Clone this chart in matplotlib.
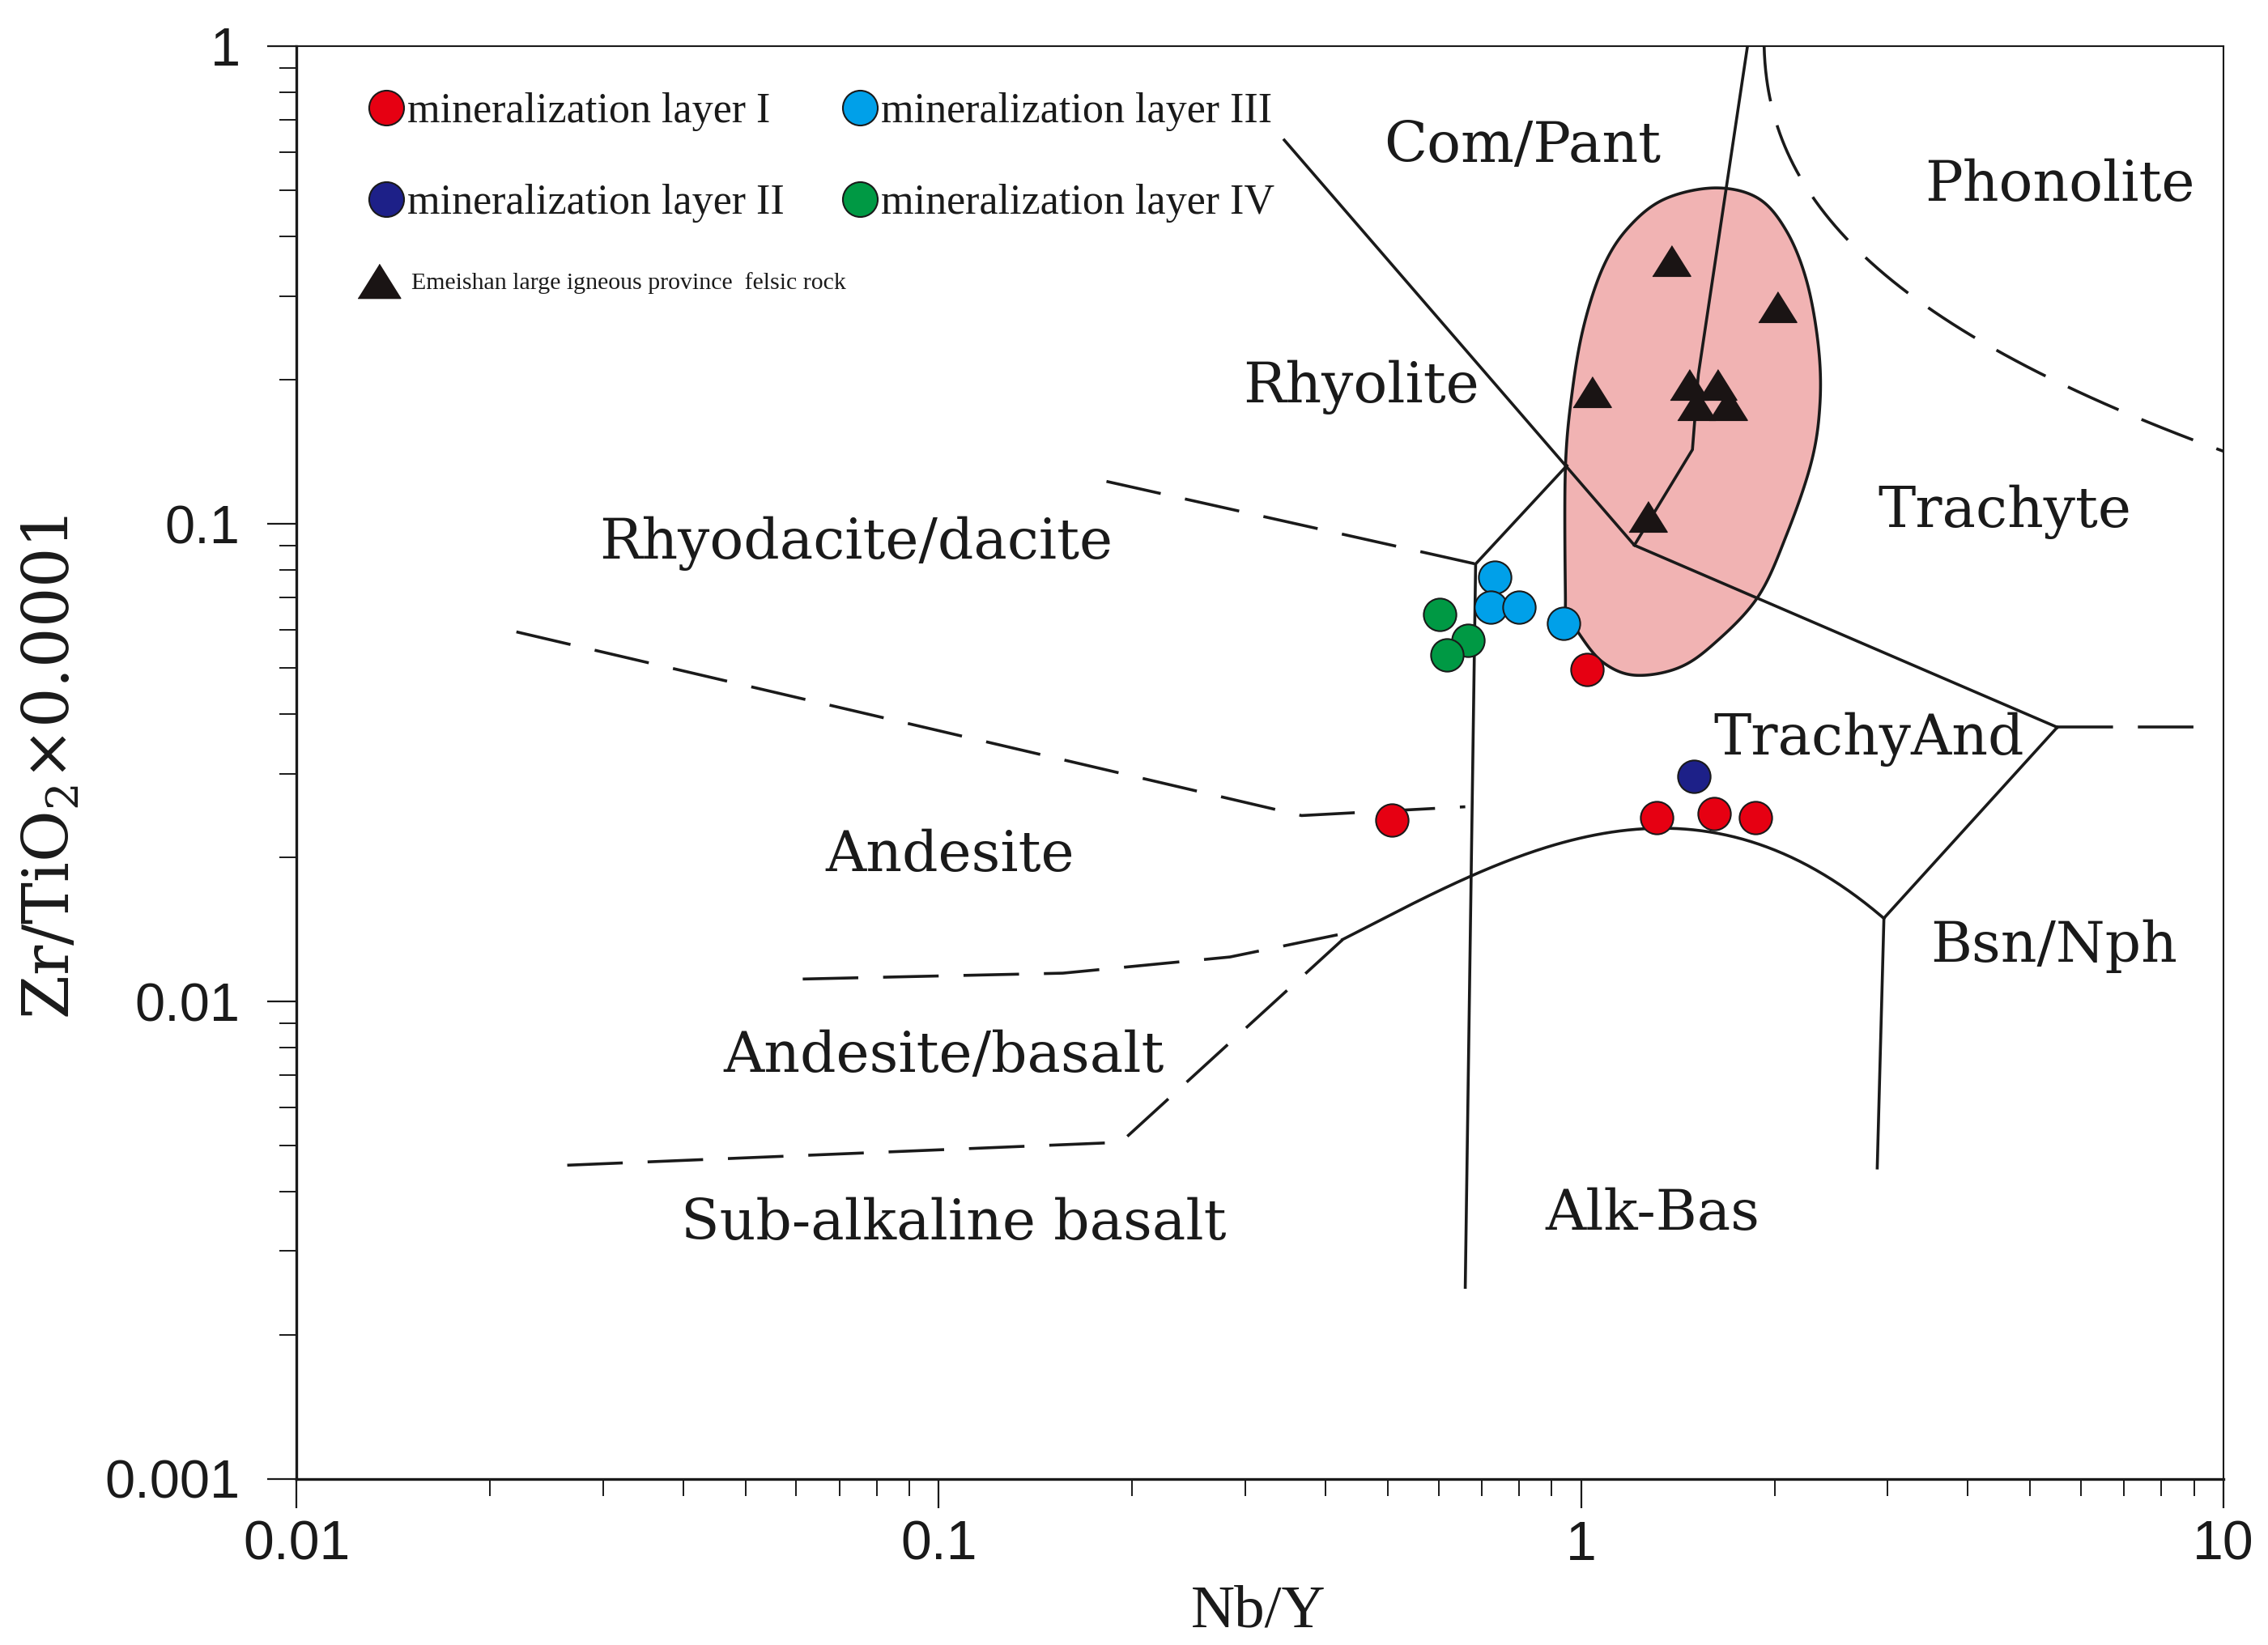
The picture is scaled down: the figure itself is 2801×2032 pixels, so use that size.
import numpy as np
import matplotlib
matplotlib.use('Agg')
import matplotlib.pyplot as plt
from matplotlib.lines import Line2D
from matplotlib.patches import Polygon
from matplotlib.ticker import FixedLocator, FixedFormatter, NullFormatter

plt.rcParams['mathtext.fontset'] = 'dejavuserif'

# ---------------- data (Nb/Y, Zr/TiO2*0.0001) ----------------
layer1_x = [1.02, 0.507, 1.31, 1.61, 1.87]
layer1_y = [0.0496, 0.0240, 0.0243, 0.0247, 0.0243]
layer2_x = [1.50]
layer2_y = [0.0296]
layer3_x = [0.733, 0.724, 0.80, 0.94]
layer3_y = [0.0774, 0.0669, 0.0669, 0.0619]
layer4_x = [0.602, 0.667, 0.618]
layer4_y = [0.0646, 0.0570, 0.0531]
felsic_x = [1.38, 2.02, 1.04, 1.47, 1.63, 1.51, 1.69, 1.27]
felsic_y = [0.356, 0.285, 0.189, 0.196, 0.196, 0.1775, 0.1775, 0.1038]

# field of Emeishan felsic rocks (outline, clockwise from top)
field_x = [1.612, 1.883, 2.088, 2.246, 2.341, 2.353, 2.281, 2.088, 1.883, 1.612,
           1.415, 1.211, 1.081, 0.995, 0.950, 0.945, 0.945, 0.969, 1.010, 1.081,
           1.181, 1.344]
field_y = [0.505, 0.481, 0.410, 0.321, 0.2346, 0.1775, 0.1343, 0.0948, 0.0702, 0.0562,
           0.0499, 0.0482, 0.0513, 0.0586, 0.0660, 0.0712, 0.1306, 0.1903, 0.2604, 0.344,
           0.4154, 0.4776]

# solid classification boundaries
solid_A_x = [0.345, 1.21, 5.51];            solid_A_y = [0.636, 0.0902, 0.0375]
solid_B_x = [0.95, 0.685, 0.66];            solid_B_y = [0.1324, 0.0824, 0.00252]
solid_C_x = [1.815, 1.522, 1.49, 1.21];     solid_C_y = [1.0, 0.2055, 0.143, 0.0902]
solid_D_x = [5.51, 2.96, 2.89];             solid_D_y = [0.0375, 0.01494, 0.00448]
solid_E_x = [0.425, 0.528, 0.66, 1.037, 1.416, 1.93, 2.38, 2.96]
solid_E_y = [0.01346, 0.0157, 0.01803, 0.02223, 0.0230, 0.0212, 0.0184, 0.01494]

# dashed classification boundaries
dash_F_x = [0.1824, 0.685];                 dash_F_y = [0.1227, 0.0824]
dash_G_x = [0.022, 0.367, 0.66];            dash_G_y = [0.0594, 0.0245, 0.02556]
dash_H_x = [0.0614, 0.156, 0.284, 0.43];    dash_H_y = [0.01114, 0.01146, 0.01239, 0.0139]
dash_I_x = [0.0264, 0.192, 0.425];          dash_I_y = [0.00454, 0.00507, 0.01346]
dash_J_x = [5.51, 9.4];                     dash_J_y = [0.0375, 0.0375]
dash_K_x = [1.92, 2.133, 2.466, 2.985, 4.30, 6.14, 10.0]
dash_K_y = [1.0, 0.589, 0.427, 0.323, 0.2345, 0.189, 0.141]

field_names = ['Com/Pant', 'Phonolite', 'Rhyolite', 'Trachyte', 'Rhyodacite/dacite',
               'TrachyAnd', 'Andesite', 'Bsn/Nph', 'Andesite/basalt',
               'Sub-alkaline basalt', 'Alk-Bas']
name_pos = [(0.636, 0.930), (0.915, 0.903), (0.5526, 0.762), (0.8866, 0.675),
            (0.2905, 0.653), (0.816, 0.516), (0.339, 0.435), (0.912, 0.372),
            (0.336, 0.295), (0.341, 0.178), (0.7035, 0.185)]

xticks = [0.01, 0.1, 1, 10]
xtick_labels = ['0.01', '0.1', '1', '10']
yticks = [0.001, 0.01, 0.1, 1]
ytick_labels = ['0.001', '0.01', '0.1', '1']

layer_labels = ['mineralization layer I', 'mineralization layer II',
                'mineralization layer III', 'mineralization layer IV']
felsic_label = 'Emeishan large igneous province  felsic rock'

# ---------------- styling ----------------
c_red = '#E60012'
c_navy = '#1D2088'
c_sky = '#00A0E9'
c_green = '#009944'
c_field = '#F1B3B3'
ink = '#1a1a1a'
lw = 2.6
dash = (0, (19, 8.5))
tri = [(-1, -0.8), (1, -0.8), (0, 0.8)]


def catmull_rom_closed(p, n=20):
    out = []
    m = len(p)
    for i in range(m):
        p0, p1, p2, p3 = p[(i - 1) % m], p[i], p[(i + 1) % m], p[(i + 2) % m]
        t = np.linspace(0, 1, n, endpoint=False)[:, None]
        seg = 0.5 * ((2 * p1) + (-p0 + p2) * t + (2 * p0 - 5 * p1 + 4 * p2 - p3) * t ** 2
                     + (-p0 + 3 * p1 - 3 * p2 + p3) * t ** 3)
        out.append(seg)
    return np.vstack(out)


fig = plt.figure(figsize=(28.01, 20.32), dpi=100)
ax = fig.add_axes([0.1307, 0.1009, 0.9804 - 0.1307, 0.9719 - 0.1009])
ax.set_xscale('log')
ax.set_yscale('log')
ax.set_xlim(0.01, 10)
ax.set_ylim(0.001, 1)

# field outline (interpolating spline in log space)
pts = np.column_stack([np.log10(field_x), np.log10(field_y)])
curve = catmull_rom_closed(pts)
poly = Polygon(10 ** curve, closed=True, facecolor=c_field, edgecolor=ink,
               linewidth=lw, zorder=1)
ax.add_patch(poly)

for xs, ys in [(solid_A_x, solid_A_y), (solid_B_x, solid_B_y), (solid_C_x, solid_C_y),
               (solid_D_x, solid_D_y)]:
    ax.plot(xs, ys, color=ink, lw=lw, zorder=2, solid_joinstyle='miter')
ex = np.log10(solid_E_x)
ey = np.log10(solid_E_y)
tt = np.linspace(ex[0], ex[-1], 200)
coef = np.polyfit(ex, ey, 4)
ax.plot(10 ** tt, 10 ** np.polyval(coef, tt), color=ink, lw=lw, zorder=2)

for xs, ys in [(dash_F_x, dash_F_y), (dash_G_x, dash_G_y), (dash_H_x, dash_H_y),
               (dash_I_x, dash_I_y), (dash_J_x, dash_J_y)]:
    ax.plot(xs, ys, color=ink, lw=lw, ls=dash, zorder=2)
kx = np.log10(dash_K_x)
ky = np.log10(dash_K_y)
kt = np.linspace(ky[0], ky[-1], 200)
kc = np.polyfit(ky, kx, 3)
ax.plot(10 ** np.polyval(kc, kt), 10 ** kt, color=ink, lw=lw, ls=dash, zorder=2)

# points
ms_c = 29
ax.plot(felsic_x, felsic_y, ls='none', marker=tri, ms=34, color='#1a1414', zorder=4)
ax.plot(layer3_x, layer3_y, ls='none', marker='o', ms=ms_c, mfc=c_sky, mec=ink, mew=1.5, zorder=5)
ax.plot(layer4_x, layer4_y, ls='none', marker='o', ms=ms_c, mfc=c_green, mec=ink, mew=1.5, zorder=5)
ax.plot(layer1_x, layer1_y, ls='none', marker='o', ms=ms_c, mfc=c_red, mec=ink, mew=1.5, zorder=5)
ax.plot(layer2_x, layer2_y, ls='none', marker='o', ms=ms_c, mfc=c_navy, mec=ink, mew=1.5, zorder=5)

# field names
for name, (fx, fy) in zip(field_names, name_pos):
    ax.text(fx, fy, name, transform=ax.transAxes, ha='center', va='center',
            fontsize=50, family='DejaVu Serif', color=ink, zorder=3)

# legend: layers (2 columns)
h = [Line2D([], [], ls='none', marker='o', ms=31, mfc=c_red, mec=ink, mew=1.5),
     Line2D([], [], ls='none', marker='o', ms=31, mfc=c_navy, mec=ink, mew=1.5),
     Line2D([], [], ls='none', marker='o', ms=31, mfc=c_sky, mec=ink, mew=1.5),
     Line2D([], [], ls='none', marker='o', ms=31, mfc=c_green, mec=ink, mew=1.5)]
leg = ax.legend(h, layer_labels, ncol=2, loc='upper left', bbox_to_anchor=(0.0366, 0.968),
                frameon=False, prop={'family': 'Liberation Serif', 'size': 37.5},
                handlelength=0.9, handletextpad=0.05, columnspacing=1.34,
                labelspacing=1.25, borderpad=0, borderaxespad=0)
for t in leg.get_texts():
    t.set_color(ink)
ax.add_artist(leg)

# legend: felsic rocks
h2 = [Line2D([], [], ls='none', marker=tri, ms=38, color='#1a1414')]
leg2 = ax.legend(h2, [felsic_label], loc='center left', bbox_to_anchor=(0.0303, 0.8345),
                 frameon=False, prop={'family': 'Liberation Serif', 'size': 21.5},
                 handlelength=2.0, handletextpad=0.35, borderpad=0, borderaxespad=0)
for t in leg2.get_texts():
    t.set_color(ink)

# axes styling
for s in ['left', 'bottom']:
    ax.spines[s].set_linewidth(2.4)
for s in ['top', 'right']:
    ax.spines[s].set_linewidth(1.5)
for s in ax.spines.values():
    s.set_color(ink)

ax.xaxis.set_major_locator(FixedLocator(xticks))
ax.xaxis.set_major_formatter(FixedFormatter(xtick_labels))
ax.yaxis.set_major_locator(FixedLocator(yticks))
ax.yaxis.set_major_formatter(FixedFormatter(ytick_labels))
ax.xaxis.set_minor_formatter(NullFormatter())
ax.yaxis.set_minor_formatter(NullFormatter())
ax.tick_params(axis='both', which='major', direction='out', length=26, width=1.6, color=ink)
ax.tick_params(axis='both', which='minor', direction='out', length=15, width=1.4, color=ink)
ax.tick_params(axis='x', which='major', pad=10, labelsize=49)
ax.tick_params(axis='y', which='major', pad=24, labelsize=48)
for lab in ax.get_xticklabels() + ax.get_yticklabels():
    lab.set_family('Liberation Sans')
    lab.set_color(ink)

ax.set_xlabel('Nb/Y', fontsize=54, family='Liberation Serif', color=ink, va='center')
ax.xaxis.set_label_coords(0.499, -0.093)
ax.set_ylabel('Zr/TiO$_{2}$\u00d70.0001', fontsize=56, family='DejaVu Serif',
              color=ink, va='center')
ax.yaxis.set_label_coords(-0.127, 0.497)

fig.savefig('out.png', dpi=100)
